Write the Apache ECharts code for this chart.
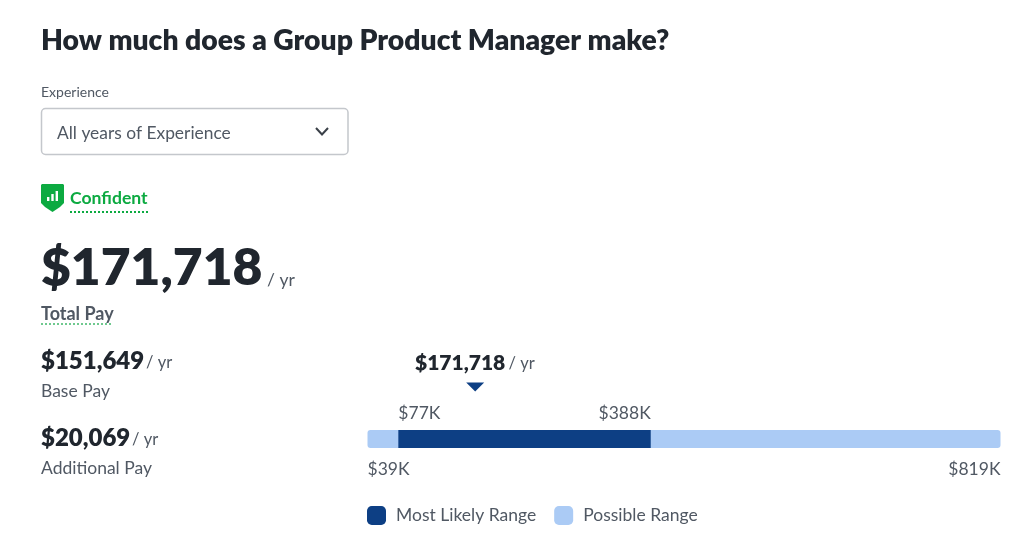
<!DOCTYPE html>
<html><head><meta charset="utf-8">
<style>html,body{margin:0;padding:0;background:#fff}#c{width:1024px;height:538px}</style>
<script src="https://cdn.jsdelivr.net/npm/echarts@6/dist/echarts.min.js"></script>
</head><body><div id="c"></div>
<script>
const scaleMin = 39;
const scaleMax = 819;
const likelyLow = 77;
const likelyHigh = 388;
const median = 171.718;
const seriesNames = ['Most Likely Range', 'Possible Range'];
const rangeCategory = ['Total Pay'];
const belowLabels = [[39, '$39K'], [819, '$819K']];
const aboveLabels = [[77, '$77K'], [388, '$388K']];
const medianLabel = '$171,718';
const F = 'Lato, "Open Sans", sans-serif';
const dark = '#20262e', grey = '#505863', navy = '#0d3f84', pale = '#abcbf5', green = '#0caa41';

function txt(x, y, text, size, color, weight) {
  return { type: 'text', x, y, style: { text, font: (weight || 400) + ' ' + size + 'px ' + F, fill: color, textVerticalAlign: 'middle' } };
}
function money(x, y, value, size, unitSize, unitGap, unitDy) {
  return { type: 'group', children: [
    { type: 'text', x, y, style: { text: value, font: '800 ' + size + 'px ' + F, fill: dark, textVerticalAlign: 'middle' } },
    { type: 'text', x: x + unitGap, y: y + unitDy, style: { text: '/ yr', font: '400 ' + unitSize + 'px ' + F, fill: grey, textVerticalAlign: 'middle' } }
  ] };
}
const dots = (x1, x2, y, color) => ({ type: 'line', shape: { x1, y1: y, x2, y2: y },
  style: { stroke: color, lineWidth: 2, lineDash: [2, 2] } });

const chart = echarts.init(document.getElementById('c'), null, { renderer: 'canvas' });
chart.setOption({
  animation: false,
  backgroundColor: '#fff',
  textStyle: { fontFamily: F },
  grid: { left: 367.5, width: 633, top: 430, height: 18 },
  xAxis: { type: 'value', min: scaleMin, max: scaleMax, show: false },
  yAxis: { type: 'category', data: rangeCategory, show: false },
  legend: {
    left: 367, top: 506, padding: 0, itemWidth: 19, itemHeight: 19, itemGap: 18, icon: 'roundRect',
    data: seriesNames, selectedMode: false,
    textStyle: { fontFamily: F, fontSize: 17.5, color: grey, padding: [0, 0, 0, 5] }
  },
  series: [
    { type: 'bar', name: seriesNames[1], data: [scaleMax], barWidth: 18, barGap: '-100%', z: 1,
      itemStyle: { color: pale, borderRadius: 3 } },
    { type: 'bar', name: 'offset', stack: 'likely', data: [likelyLow], barWidth: 18, z: 2,
      itemStyle: { color: 'transparent' } },
    { type: 'bar', name: seriesNames[0], stack: 'likely', data: [likelyHigh - likelyLow], barWidth: 18, z: 2,
      itemStyle: { color: navy } },
    { type: 'scatter', name: 'median', data: [[median, rangeCategory[0]]], symbol: 'triangle', symbolRotate: 180,
      symbolSize: [18, 9], symbolOffset: [0, -52], z: 3, itemStyle: { color: navy, opacity: 1 } },
    { type: 'scatter', name: 'above', data: aboveLabels.map((d, i) => ({ value: [d[0], rangeCategory[0]],
        label: { align: i ? 'right' : 'left' }, name: d[1] })), symbolSize: 1, itemStyle: { color: 'transparent', opacity: 1 }, z: 3,
      label: { show: true, position: 'inside', offset: [0, -26], formatter: p => p.name,
        fontFamily: F, fontSize: 17.5, color: grey, verticalAlign: 'middle' } },
    { type: 'scatter', name: 'below', data: belowLabels.map((d, i) => ({ value: [d[0], rangeCategory[0]],
        label: { align: i ? 'right' : 'left' }, name: d[1] })), symbolSize: 1, itemStyle: { color: 'transparent', opacity: 1 }, z: 3,
      label: { show: true, position: 'inside', offset: [0, 30], formatter: p => p.name,
        fontFamily: F, fontSize: 17.5, color: grey, verticalAlign: 'middle' } }
  ],
  graphic: { elements: [
    txt(41, 41, 'How much does a Group Product Manager make?', 28.3, dark, 800),
    txt(41, 92, 'Experience', 14, grey),
    { type: 'rect', shape: { x: 41.5, y: 108.5, width: 306.5, height: 46, r: 4 }, style: { fill: '#fff', stroke: '#c4c7cc', lineWidth: 1.5 } },
    txt(57, 133.5, 'All years of Experience', 17.4, grey),
    { type: 'polyline', shape: { points: [[316, 128], [322, 134.5], [328, 128]] }, style: { stroke: '#3a4048', lineWidth: 2, fill: 'none' } },
    { type: 'polygon', shape: { points: [[42, 184], [63, 184], [64, 185], [64, 203], [60, 207], [52.5, 212], [45, 207], [41, 203], [41, 185]] }, style: { fill: green } },
    { type: 'rect', shape: { x: 47, y: 197, width: 2.4, height: 4 }, style: { fill: '#fff' } },
    { type: 'rect', shape: { x: 51.3, y: 194, width: 2.4, height: 7 }, style: { fill: '#fff' } },
    { type: 'rect', shape: { x: 55.6, y: 191, width: 2.4, height: 10 }, style: { fill: '#fff' } },
    txt(70, 198.5, 'Confident', 17.6, green, 700),
    dots(70, 148, 212, green),
    money(41, 268, '$171,718', 51.5, 17.5, 226, 12),
    txt(41, 314, 'Total Pay', 18, grey, 700),
    dots(41, 113, 324, '#6fc98f'),
    money(41, 361, '$151,649', 24, 16.5, 105, 1.5),
    txt(41, 391, 'Base Pay', 17.5, grey),
    money(41, 438, '$20,069', 24, 16.5, 91, 1.5),
    txt(41, 468, 'Additional Pay', 17.5, grey),
    money(415, 363, medianLabel, 21, 16.5, 93.5, 1)
  ] }
});
</script></body></html>
